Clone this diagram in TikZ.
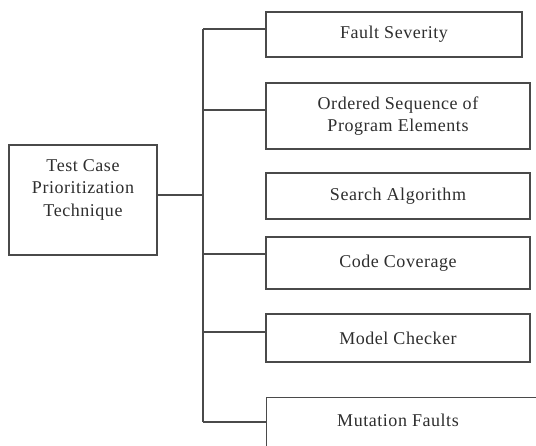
\documentclass[tikz,border=0pt]{standalone}
\usepackage{fontspec}
\setmainfont{Liberation Serif}[LetterSpace=3]
\usetikzlibrary{calc}
\definecolor{linegray}{HTML}{4A4A4A}
\definecolor{textgray}{HTML}{2E2E2E}
\begin{document}
\begin{tikzpicture}[x=1pt,y=-1pt,
  box/.style={draw=linegray, line width=1.4pt, inner sep=0pt},
  lbl/.style={font=\fontsize{18}{22.5}\selectfont, text=textgray, align=center},
  conn/.style={draw=linegray, line width=1.4pt}]
\useasboundingbox (0,0) rectangle (536,445);
\fill[white] (0,0) rectangle (536,445);
\clip (0,0) rectangle (536,445);

\node[box, minimum width=148pt, minimum height=110pt] (root) at (83,200) {};
\node[lbl] (roottext) at (83,189.5) {Test Case\\Prioritization\\Technique};

\node[box, lbl, minimum width=256pt, minimum height=45pt] (fs) at (394,34.5) {Fault Severity};
\node[box, lbl, minimum width=264pt, minimum height=66pt] (os) at (398,116) {Ordered Sequence of\\Program Elements};
\node[box, lbl, minimum width=264pt, minimum height=46pt] (sa) at (398,196) {Search Algorithm};
\node[box, lbl, minimum width=264pt, minimum height=52pt] (cc) at (398,263) {Code Coverage};
\node[box, lbl, minimum width=264pt, minimum height=48pt] (mc) at (398,338) {Model Checker};
\node[box, minimum width=300pt, minimum height=100pt, anchor=north west] (mf) at (266,397) {};
\node[lbl] (mftext) at (398,420) {Mutation Faults};

\coordinate (j0) at (203,195);
\coordinate (j1) at (203,29);
\coordinate (j2) at (203,110);
\coordinate (j4) at (203,254);
\coordinate (j5) at (203,332);
\coordinate (j6) at (203,422);

\draw[conn] (j1) -- (j6);
\draw[conn] (root.east |- j0) -- (j0);
\draw[conn] (j1) -- (j1 -| fs.west);
\draw[conn] (j2) -- (j2 -| os.west);
\draw[conn] (j4) -- (j4 -| cc.west);
\draw[conn] (j5) -- (j5 -| mc.west);
\draw[conn] (j6) -- (j6 -| mf.west);
\end{tikzpicture}
\end{document}
